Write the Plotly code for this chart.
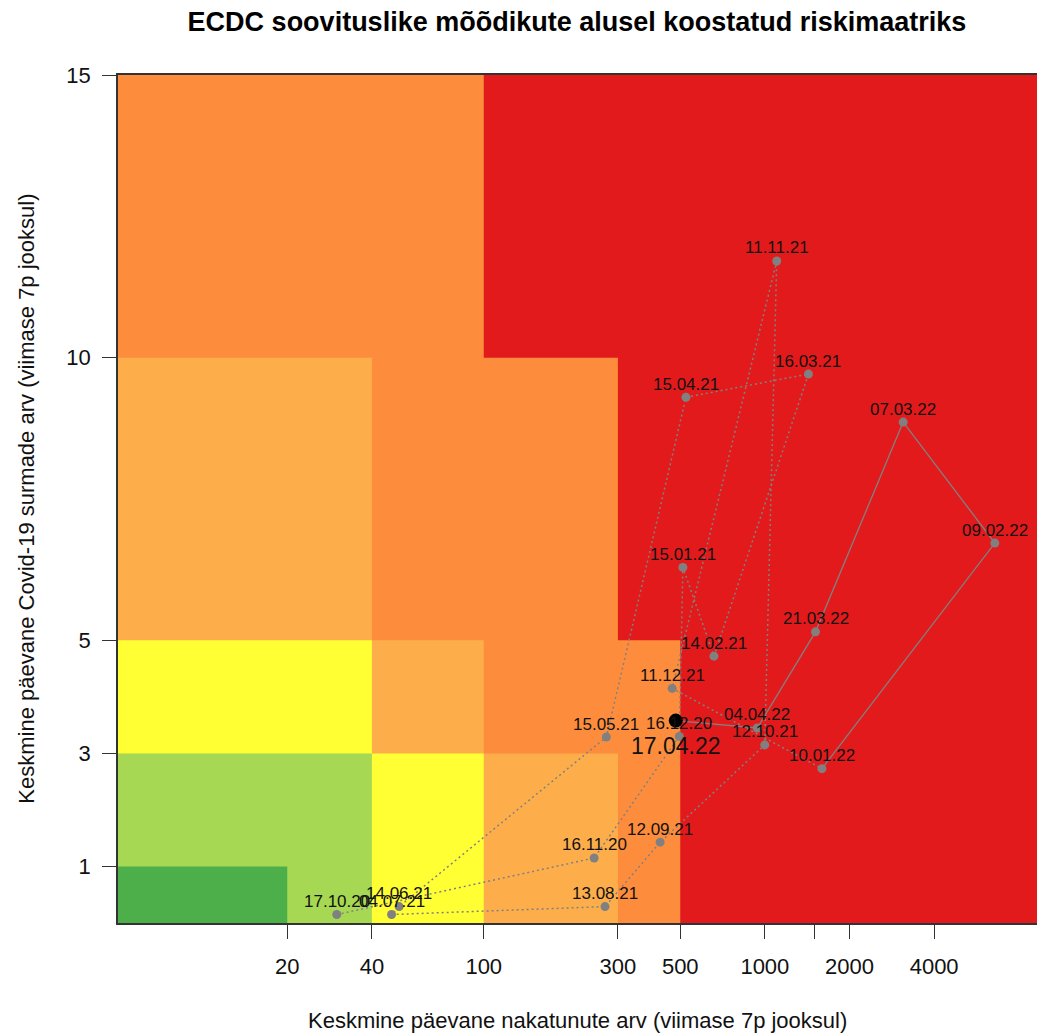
import numpy as np
import plotly.graph_objects as go

# ---- data ----
dates = ["17.10.20", "16.11.20", "16.12.20", "15.01.21", "14.02.21", "16.03.21",
         "15.04.21", "15.05.21", "14.06.21", "04.07.21", "13.08.21", "12.09.21",
         "12.10.21", "11.11.21", "11.12.21", "10.01.22", "09.02.22", "07.03.22",
         "21.03.22", "04.04.22", "17.04.22"]
cases = [30, 247, 496, 511, 659, 1429, 524, 273, 50, 47, 270, 424,
         999, 1102, 468, 1596, 6577, 3105, 1514, 940, 482]
deaths = [0.15, 1.15, 3.30, 6.29, 4.72, 9.71, 9.30, 3.29, 0.29, 0.15, 0.29, 1.43,
          3.15, 11.71, 4.15, 2.73, 6.72, 8.86, 5.15, 3.45, 3.58]
solid_from = "10.01.22"

x_breaks = [5, 20, 40, 100, 300, 500, 10000]
y_breaks = [0, 1, 3, 5, 10, 15]
risk_levels = [
    [0, 1, 2, 3, 4, 5],
    [1, 1, 2, 3, 4, 5],
    [2, 2, 3, 4, 4, 5],
    [3, 3, 4, 4, 5, 5],
    [4, 4, 4, 5, 5, 5],
]
risk_colors = ["#4DAF4A", "#A6D854", "#FFFF33", "#FDAE4B", "#FD8D3C", "#E31A1C"]

x_tickvals = [20, 40, 100, 300, 500, 1000, 1500, 2000, 4000]
x_ticktext = ["20", "40", "100", "300", "500", "1000", "", "2000", "4000"]
y_tickvals = [1, 3, 5, 10, 15]

title = "ECDC soovituslike mõõdikute alusel koostatud riskimaatriks"
x_title = "Keskmine päevane nakatunute arv (viimase 7p jooksul)"
y_title = "Keskmine päevane Covid-19 surmade arv (viimase 7p jooksul)"

FONT = "Liberation Sans, Arial, sans-serif"
GRAY = "#808080"

fig = go.Figure()

# risk matrix: nested staircase regions, highest level first
for lev in range(len(risk_colors) - 1, -1, -1):
    px, py = [x_breaks[0]], [y_breaks[0]]
    top = y_breaks[0]
    for r, row in enumerate(risk_levels):
        n = sum(1 for v in row if v <= lev)
        if n == 0:
            break
        xr = x_breaks[n]
        px += [xr, xr]
        py += [y_breaks[r], y_breaks[r + 1]]
        top = y_breaks[r + 1]
    if len(px) == 1:
        continue
    px += [x_breaks[0], x_breaks[0]]
    py += [top, y_breaks[0]]
    col = risk_colors[lev]
    fig.add_trace(go.Scatter(
        x=px, y=py, mode="lines", fill="toself", fillcolor=col,
        line=dict(width=0, color=col), hoverinfo="skip", showlegend=False))

k = dates.index(solid_from)
# dotted path (older)
fig.add_trace(go.Scatter(
    x=cases[:k + 1], y=deaths[:k + 1], mode="lines",
    line=dict(color=GRAY, width=1.5, dash="2px,3px"), showlegend=False))
# solid path (recent)
fig.add_trace(go.Scatter(
    x=cases[k:], y=deaths[k:], mode="lines",
    line=dict(color=GRAY, width=1.3), showlegend=False))
# gray points
fig.add_trace(go.Scatter(
    x=cases[:-1], y=deaths[:-1], mode="markers",
    marker=dict(color=GRAY, size=9), showlegend=False))

# labels
for d, cx, dy in zip(dates[:-1], cases[:-1], deaths[:-1]):
    fig.add_annotation(x=np.log10(cx), y=dy, text=d, showarrow=False,
                       xanchor="center", yanchor="middle", yshift=13,
                       font=dict(family=FONT, size=17, color="#111"))

# last point
fig.add_trace(go.Scatter(
    x=[cases[-1]], y=[deaths[-1]], mode="markers",
    marker=dict(color="black", size=14), showlegend=False))
fig.add_annotation(x=np.log10(cases[-1]), y=deaths[-1], text=dates[-1], showarrow=False,
                   xanchor="center", yanchor="middle", yshift=-25,
                   font=dict(family=FONT, size=23, color="#111"))

# axis titles
fig.add_annotation(xref="paper", yref="paper", x=0.5, y=-0.115, text=x_title,
                   showarrow=False, xanchor="center", yanchor="middle",
                   font=dict(family=FONT, size=22, color="#111"))
fig.add_annotation(xref="paper", yref="paper", x=-0.1005, y=0.5, text=y_title,
                   showarrow=False, xanchor="center", yanchor="middle", textangle=-90,
                   font=dict(family=FONT, size=22, color="#111"))

fig.update_layout(
    width=1037, height=1036,
    margin=dict(l=118, r=0, t=75, b=113),
    paper_bgcolor="white", plot_bgcolor="white",
    font=dict(family=FONT, size=22, color="#111"),
    title=dict(text=title, x=0.5564, xanchor="center", y=0.979, yanchor="middle",
               font=dict(family=FONT, size=27, color="black", weight="bold")),
    showlegend=False,
)
fig.update_xaxes(type="log", range=[np.log10(5), 3.968],
                 tickvals=x_tickvals, ticktext=x_ticktext,
                 ticks="outside", ticklen=14, tickcolor="#333", tickwidth=1.3,
                 showgrid=False, zeroline=False,
                 showline=True, linecolor="#333", linewidth=1.5, mirror=True,
                 ticklabelstandoff=9,
                 tickfont=dict(family=FONT, size=22, color="#111"))
fig.update_yaxes(range=[0, 15], tickvals=y_tickvals,
                 ticks="outside", ticklen=14, tickcolor="#333", tickwidth=1.3,
                 showgrid=False, zeroline=False,
                 showline=True, linecolor="#333", linewidth=1.5,
                 ticklabelstandoff=7,
                 tickfont=dict(family=FONT, size=22, color="#111"))

fig.write_html("out.html", config={"displayModeBar": False},
               post_script="document.body.style.margin='0px';document.body.style.overflow='hidden';")
